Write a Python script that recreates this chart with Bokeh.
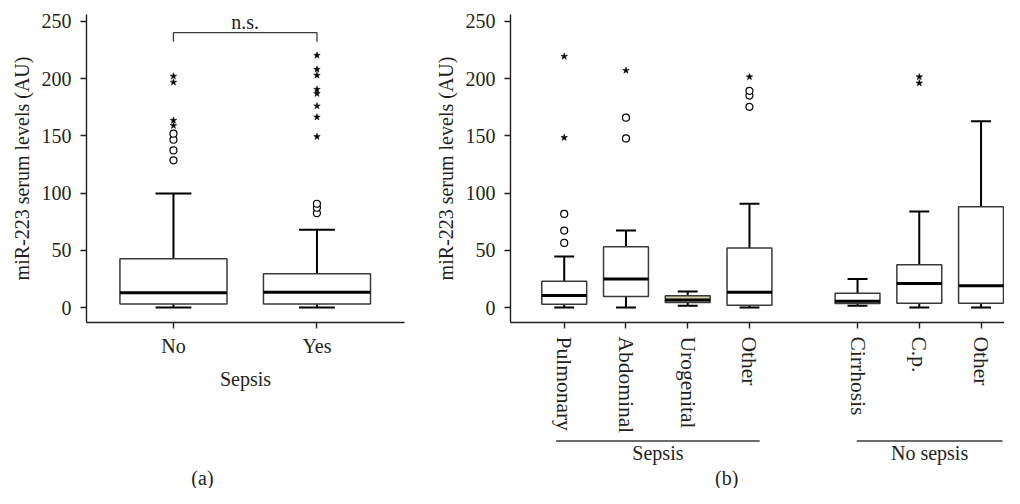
from bokeh.plotting import figure
from bokeh.models import Range1d, FixedTicker
from bokeh.layouts import row, column
from bokeh.embed import file_html
from bokeh.resources import INLINE
from bokeh.core.properties import value

FONT = "Liberation Serif"
INK = "#231f20"

# ---------------- data: panel (a) ----------------
sepsis_labels = ["No", "Yes"]
a_low = [0, 0]
a_q1 = [3.0, 3.0]
a_med = [12.8, 13.4]
a_q3 = [42.5, 29.5]
a_high = [99.5, 68.0]
a_outliers = [[128.5, 137.2, 146.5, 151.8], [82.4, 87.1, 90.6]]
a_extremes = [[158.8, 163.4, 196.7, 202.0],
              [149.2, 166.3, 176.0, 186.8, 190.5, 202.8, 208.0, 220.2]]
a_fill = ["white", "white"]

# ---------------- data: panel (b) ----------------
b_groups = ["Sepsis", "No sepsis"]
b_labels = [["Pulmonary", "Abdominal", "Urogenital", "Other"],
            ["Cirrhosis", "C.p.", "Other"]]
b_low = [0, 0, 1.5, 0, 1.5, 0, 0]
b_q1 = [2.9, 9.6, 4.4, 2.0, 3.5, 3.8, 3.8]
b_med = [10.5, 25.0, 6.5, 13.4, 5.5, 21.0, 18.9]
b_q3 = [23.0, 53.0, 10.3, 52.0, 12.5, 37.3, 87.9]
b_high = [44.5, 67.2, 14.0, 90.7, 25.0, 83.8, 162.6]
b_outliers = [[56.4, 67.2, 81.7], [147.7, 165.8], [], [175.3, 185.1, 189.2], [], [], []]
b_extremes = [[148.4, 219.3], [207.0], [], [201.4], [], [196.0, 201.4], []]
b_fill = ["white", "white", "#d3cf9e", "white", "white", "white", "white"]

y_ticks = [0, 50, 100, 150, 200, 250]
y_label = "miR-223 serum levels (AU)"

# ---------------- layout constants ----------------
GROUP_GAP = 0.75
Y_RANGE = (-13.1, 255.9)
MAIN_H = 436
CAP_H = 52


def style(p):
    p.outline_line_color = None
    p.xgrid.visible = False
    p.ygrid.visible = False
    p.background_fill_color = "white"
    p.border_fill_color = "white"
    for ax in (p.xaxis, p.yaxis):
        ax.axis_line_width = 1.4
        ax.axis_line_color = INK
        ax.major_tick_line_width = 1.4
        ax.major_tick_line_color = INK
        ax.major_tick_out = 6
        ax.major_tick_in = 0
        ax.minor_tick_line_color = None
        ax.major_label_text_font = FONT
        ax.major_label_text_font_size = "20px"
        ax.major_label_text_color = INK
        ax.axis_label_text_font = FONT
        ax.axis_label_text_font_size = "20px"
        ax.axis_label_text_font_style = "normal"
        ax.axis_label_text_color = INK
    p.yaxis.ticker = FixedTicker(ticks=y_ticks)
    p.yaxis.major_label_standoff = 9
    p.yaxis.axis_label = y_label
    p.yaxis.axis_label_standoff = 6


def caption_fig(width, x_range, left, right):
    q = figure(width=width, height=CAP_H, x_range=x_range, y_range=Range1d(0, CAP_H),
               output_backend="svg", toolbar_location=None, x_axis_type=None,
               y_axis_type=None, min_border_left=left, min_border_right=right,
               min_border_top=0, min_border_bottom=0)
    q.outline_line_color = None
    q.xgrid.visible = False
    q.ygrid.visible = False
    q.background_fill_color = "white"
    q.border_fill_color = "white"
    return q


def draw_boxes(p, xs, low, q1, med, q3, high, fills, outliers, extremes, box_w, cap_w):
    half = box_w / 2
    ch = cap_w / 2
    p.segment(x0=xs, y0=q3, x1=xs, y1=high, line_color="black", line_width=2)
    p.segment(x0=xs, y0=low, x1=xs, y1=q1, line_color="black", line_width=2)
    p.segment(x0=[x - ch for x in xs], y0=high, x1=[x + ch for x in xs], y1=high,
              line_color="black", line_width=2)
    p.segment(x0=[x - ch for x in xs], y0=low, x1=[x + ch for x in xs], y1=low,
              line_color="black", line_width=2)
    p.vbar(x=xs, width=box_w, bottom=q1, top=q3, fill_color=fills,
           line_color="#3a3a3a", line_width=1.5)
    p.segment(x0=[x - half for x in xs], y0=med, x1=[x + half for x in xs], y1=med,
              line_color="black", line_width=3)
    ox, oy, ex, ey = [], [], [], []
    for x, o, e in zip(xs, outliers, extremes):
        ox += [x] * len(o)
        oy += o
        ex += [x] * len(e)
        ey += e
    p.scatter(x=ox, y=oy, marker="circle", size=7, fill_color="white",
              line_color="black", line_width=1.2)
    p.scatter(x=ex, y=ey, marker="star", size=7, fill_color="black",
              line_color="black", line_width=0.5)


def add_text(p, x, y, texts, size="20px"):
    p.text(x=x, y=y, text=texts, text_align="center", text_baseline="middle",
           text_font=value(FONT), text_font_size=size, text_color=INK)


# ---------------- panel (a) ----------------
a_x = list(range(len(sepsis_labels)))
pa = figure(width=430, height=MAIN_H, x_range=Range1d(-0.606, 1.610),
            y_range=Range1d(*Y_RANGE), output_backend="svg", toolbar_location=None,
            min_border_left=86, min_border_right=26, min_border_top=14,
            min_border_bottom=MAIN_H - 14 - 308)
style(pa)
pa.xaxis.ticker = FixedTicker(ticks=a_x)
pa.xaxis.major_label_overrides = {x: lab for x, lab in zip(a_x, sepsis_labels)}
pa.xaxis.major_label_standoff = 6
pa.xaxis.axis_label = "Sepsis"
pa.xaxis.axis_label_standoff = 8
draw_boxes(pa, a_x, a_low, a_q1, a_med, a_q3, a_high, a_fill, a_outliers, a_extremes,
           box_w=0.746, cap_w=0.25)

# significance bracket
NS_Y = 240.0
NS_DROP = 7.8
pa.line(x=[a_x[0], a_x[0], a_x[1], a_x[1]], y=[NS_Y - NS_DROP, NS_Y, NS_Y, NS_Y - NS_DROP],
        line_color="#3a3a3a", line_width=1.3)
add_text(pa, [(a_x[0] + a_x[1]) / 2], [NS_Y + 9.6], ["n.s."])

qa = caption_fig(430, pa.x_range, 86, 26)
add_text(qa, [0.202], [11], ["(a)"])

# ---------------- panel (b) ----------------
b_x, b_names, group_spans = [], [], []
for g, labs in enumerate(b_labels):
    start = len(b_x)
    for i, lab in enumerate(labs):
        b_x.append(start + i + g * GROUP_GAP)
        b_names.append(lab)
    group_spans.append((b_x[start], b_x[-1]))

pb = figure(width=574, height=MAIN_H, x_range=Range1d(-0.87, 7.13),
            y_range=Range1d(*Y_RANGE), output_backend="svg", toolbar_location=None,
            min_border_left=80, min_border_right=0, min_border_top=14,
            min_border_bottom=MAIN_H - 14 - 308)
style(pb)
pb.xaxis.ticker = FixedTicker(ticks=b_x)
pb.xaxis.major_label_overrides = {x: lab for x, lab in zip(b_x, b_names)}
pb.xaxis.major_label_orientation = "vertical"
pb.xaxis.major_label_text_font_size = "21.5px"
pb.xaxis.major_label_standoff = 8
draw_boxes(pb, b_x, b_low, b_q1, b_med, b_q3, b_high, b_fill, b_outliers, b_extremes,
           box_w=0.727, cap_w=0.323)

qb = caption_fig(574, pb.x_range, 80, 0)
line_ext = [(-0.13, 0.165), (-0.013, 0.347)]
lx0 = [s + e[0] for (s, _), e in zip(group_spans, line_ext)]
lx1 = [t + e[1] for (_, t), e in zip(group_spans, line_ext)]
qb.segment(x0=lx0, y0=[CAP_H - 4.5] * 2, x1=lx1, y1=[CAP_H - 4.5] * 2,
           line_color="#3a3a3a", line_width=1.3)
add_text(qb, [(a + b) / 2 for a, b in zip(lx0, lx1)], [CAP_H - 16] * 2, b_groups)
add_text(qb, [2.631], [11], ["(b)"])

layout = row(column(pa, qa), column(pb, qb))
open("out.html", "w").write(file_html(layout, INLINE))
